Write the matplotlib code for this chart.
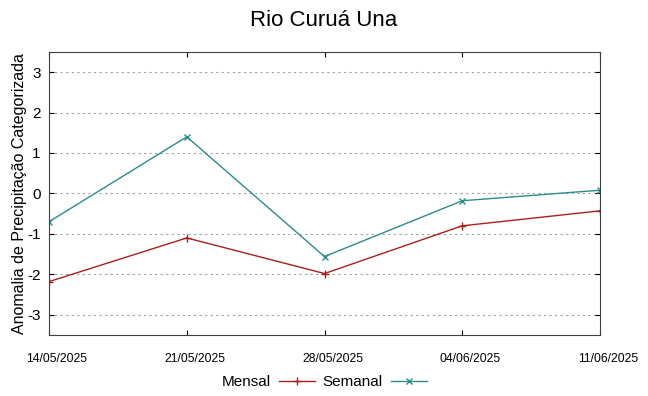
import matplotlib
matplotlib.use("Agg")
import matplotlib.pyplot as plt
import matplotlib.dates as mdates
import matplotlib.transforms as mtransforms
import pandas as pd

plt.rcParams['font.family'] = ['Liberation Sans', 'DejaVu Sans']
plt.rcParams['axes.unicode_minus'] = False

datas = ["2025-05-14", "2025-05-21", "2025-05-28", "2025-06-04", "2025-06-11"]
mensal = [-2.18, -1.10, -1.98, -0.80, -0.43]
semanal = [-0.70, 1.40, -1.56, -0.18, 0.08]
yticks = [-3, -2, -1, 0, 1, 2, 3]

x = pd.to_datetime(datas)

fig = plt.figure(figsize=(6.48, 3.96), dpi=100)
ax = fig.add_axes([0.0756, 0.154, 0.8504, 0.715])

ax.plot(x, mensal, color="#a8201a", lw=1, marker="+", ms=6, mew=1, label="Mensal")
ax.plot(x, semanal, color="#2e8b8b", lw=1, marker="x", ms=5, mew=1, label="Semanal")

ax.set_xlim(x[0], x[-1])
ax.set_ylim(-3.5, 3.5)
ax.set_yticks(yticks)
ax.set_xticks(x)
ax.xaxis.set_major_formatter(mdates.DateFormatter("%d/%m/%Y"))
ax.tick_params(axis="x", labelsize=8.7, direction="in", top=True, pad=13)
ax.tick_params(axis="y", labelsize=11, direction="in", right=True, pad=6)
ax.yaxis.grid(True, linestyle=(0, (2, 3)), color="#a0a0a0", lw=0.8)
for s in ax.spines.values():
    s.set_color("#404040")

# rotulos do eixo x ficam um pouco deslocados para a direita (estilo gnuplot)
shift = mtransforms.ScaledTranslation(0.08, 0, fig.dpi_scale_trans)
for lbl in ax.get_xticklabels():
    lbl.set_transform(lbl.get_transform() + shift)

ax.set_ylabel("Anomalia de Precipitação Categorizada", fontsize=11.5)
ax.yaxis.set_label_coords(-0.040, 0.5)
fig.suptitle("Rio Curuá Una", fontsize=16, y=0.975)

ax.legend(loc="center", bbox_to_anchor=(0.5, -0.166), ncol=2, frameon=False,
          markerfirst=False, fontsize=11, handlelength=2.4, columnspacing=0.5,
          handletextpad=0.5)

fig.savefig("out.png", dpi=100)
